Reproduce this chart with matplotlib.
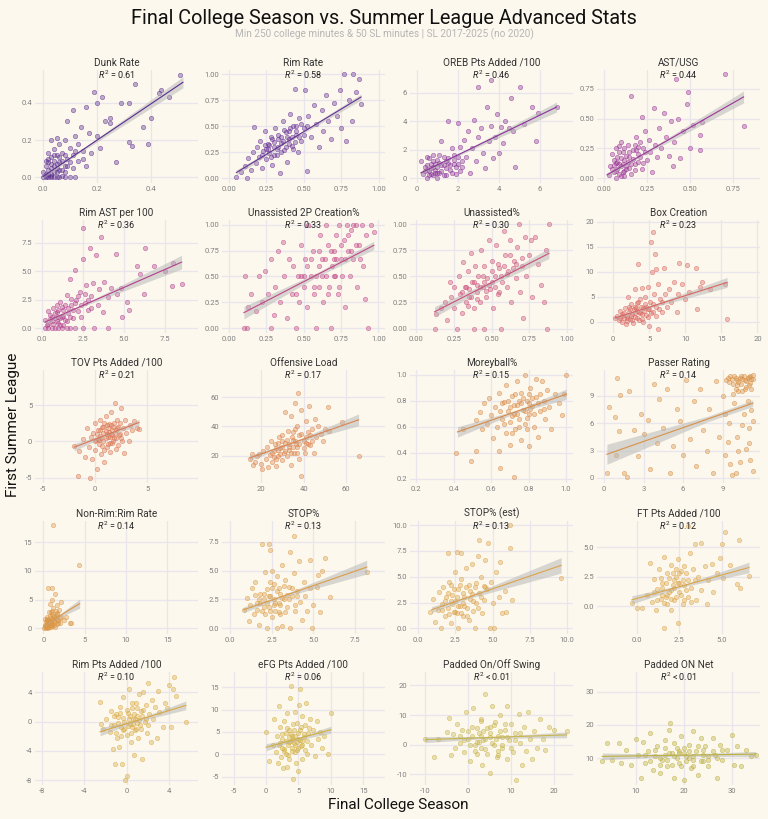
import numpy as np
import matplotlib.pyplot as plt
from matplotlib.colors import to_rgba

plt.rcParams['font.family'] = ['Roboto', 'DejaVu Sans']
plt.rcParams['axes.unicode_minus'] = False
plt.rcParams['mathtext.fontset'] = 'custom'
plt.rcParams['mathtext.rm'] = 'Roboto'
plt.rcParams['mathtext.it'] = 'Roboto:italic'

bg = '#fcf8ed'

names = ['Dunk Rate', 'Rim Rate', 'OREB Pts Added /100', 'AST/USG',
         'Rim AST per 100', 'Unassisted 2P Creation%', 'Unassisted%', 'Box Creation',
         'TOV Pts Added /100', 'Offensive Load', 'Moreyball%', 'Passer Rating',
         'Non-Rim:Rim Rate', 'STOP%', 'STOP% (est)', 'FT Pts Added /100',
         'Rim Pts Added /100', 'eFG Pts Added /100', 'Padded On/Off Swing', 'Padded ON Net']
r2_labels = ['= 0.61', '= 0.58', '= 0.46', '= 0.44', '= 0.36', '= 0.33', '= 0.30', '= 0.23',
             '= 0.21', '= 0.17', '= 0.15', '= 0.14', '= 0.14', '= 0.13', '= 0.13', '= 0.12',
             '= 0.10', '= 0.06', '< 0.01', '< 0.01']
colors = ['#5b2d90', '#652f96', '#8a329a', '#9c3598', '#b33e8e', '#c24787', '#cc4e7a', '#d9655f',
          '#db7553', '#dc834c', '#d98a45', '#d99146', '#db9848', '#dc9d47', '#dca24a', '#dca649',
          '#d9aa44', '#d3b03f', '#c8b54a', '#bcb03f']
lims = [(-0.03, 0.576), (-0.046, 1.04), (-0.33, 7.6), (-0.038, 0.905), (-0.42, 9.5),
        (-0.047, 1.045), (-0.043, 1.04), (-2.2, 20.35), (-5.75, 9.85), (1.4, 78.5),
        (0.167, 1.037), (-0.55, 11.85), (-1.0, 18.7), (-0.5, 9.3), (-0.55, 10.4),
        (-2.35, 7.25), (-8.65, 6.75), (-6.8, 18.35), (-13.6, 24.5), (1.9, 35.9)]
ticks = [[0.0, 0.2, 0.4], [0, 0.25, 0.5, 0.75, 1.0], [0, 2, 4, 6], [0, 0.25, 0.5, 0.75],
         [0, 2.5, 5, 7.5], [0, 0.25, 0.5, 0.75, 1.0], [0, 0.25, 0.5, 0.75, 1.0], [0, 5, 10, 15, 20],
         [-5, 0, 5], [20, 40, 60], [0.2, 0.4, 0.6, 0.8, 1.0], [0, 3, 6, 9],
         [0, 5, 10, 15], [0, 2.5, 5, 7.5], [0, 2.5, 5, 7.5, 10], [0, 2.5, 5],
         [-8, -4, 0, 4], [-5, 0, 5, 10, 15], [-10, 0, 10, 20], [10, 20, 30]]
decimals = [1, 2, 0, 2, 1, 2, 2, 0, 0, 0, 1, 0, 0, 1, 1, 1, 0, 0, 0, 0]

# fitted line ends (x0, y0, x1, y1) and ribbon half-widths (left, narrowest, right)
fits = [(0.0, 0.005, 0.52, 0.51), (0.05, 0.055, 0.88, 0.78), (0.2, 0.38, 6.8, 5.0), (0.02, 0.03, 0.81, 0.68),
        (0.2, 0.55, 8.5, 5.8), (0.1, 0.15, 0.97, 0.8), (0.12, 0.16, 0.88, 0.72), (0.3, 0.8, 15.8, 7.9),
        (-2.0, -0.8, 4.2, 2.6), (14.5, 18.5, 66, 44.5), (0.42, 0.56, 1.0, 0.85), (0.2, 2.6, 11.3, 8.2),
        (0.1, 0.5, 4.4, 4.3), (0.8, 1.6, 8.2, 5.3), (0.9, 1.8, 9.6, 6.1), (-0.3, 0.55, 6.6, 3.3),
        (-2.5, -1.4, 5.6, 2.2), (0.0, 1.6, 10.0, 5.5), (-10.0, 1.7, 23.0, 3.3), (3.0, 10.5, 35.0, 11.2)]
bands = [(0.012, 0.005, 0.03), (0.025, 0.01, 0.03), (0.15, 0.08, 0.35), (0.02, 0.01, 0.05),
         (0.2, 0.1, 0.6), (0.06, 0.02, 0.04), (0.05, 0.02, 0.05), (0.3, 0.25, 1.0),
         (0.5, 0.15, 0.45), (1.8, 0.7, 4.0), (0.04, 0.01, 0.04), (1.1, 0.3, 0.35),
         (0.15, 0.1, 0.8), (0.25, 0.1, 0.6), (0.3, 0.15, 0.75), (0.35, 0.1, 0.45),
         (0.55, 0.15, 0.6), (0.8, 0.25, 0.8), (1.0, 0.3, 1.0), (1.0, 0.3, 0.8)]

pts_dunk = [(0.00,0.00),(0.01,0.00),(0.02,0.00),(0.03,0.00),(0.04,0.00),(0.05,0.00),(0.06,0.00),(0.08,0.00),(0.10,0.00),(0.12,0.00),
    (0.01,0.02),(0.02,0.04),(0.03,0.02),(0.04,0.06),(0.05,0.03),(0.06,0.08),(0.07,0.04),(0.02,0.08),(0.03,0.11),(0.05,0.12),
    (0.08,0.06),(0.09,0.10),(0.04,0.15),(0.06,0.18),(0.07,0.13),(0.10,0.16),(0.03,0.20),(0.05,0.21),(0.08,0.20),(0.11,0.12),
    (0.12,0.22),(0.13,0.09),(0.15,0.14),(0.16,0.06),(0.09,0.30),(0.11,0.36),(0.14,0.27),(0.17,0.24),(0.18,0.13),(0.20,0.22),
    (0.16,0.38),(0.19,0.46),(0.20,0.40),(0.22,0.43),(0.21,0.16),(0.23,0.30),(0.25,0.29),(0.25,0.32),(0.27,0.08),(0.29,0.40),
    (0.32,0.40),(0.32,0.19),(0.33,0.17),(0.34,0.50),(0.37,0.27),(0.39,0.18),(0.40,0.32),(0.43,0.45),(0.44,0.47),(0.47,0.43),
    (0.51,0.55),(0.03,0.01),(0.01,0.06),(0.02,0.13),
    (0.01,0.01),(0.02,0.02),(0.03,0.05),(0.04,0.03),(0.05,0.07),(0.06,0.04),(0.07,0.09),(0.08,0.03),(0.09,0.06),(0.02,0.10),
    (0.04,0.12),(0.06,0.11),(0.00,0.03),(0.01,0.09),(0.03,0.07),(0.05,0.05),(0.07,0.01),(0.10,0.08),(0.11,0.05),(0.12,0.14),
    (0.04,0.09),(0.08,0.12),(0.13,0.18),(0.15,0.10)]
pts_rim = [(0.05,0.01),(0.08,0.06),(0.11,0.12),(0.12,0.00),(0.13,0.19),(0.15,0.08),(0.16,0.25),(0.17,0.49),(0.18,0.15),(0.19,0.30),
    (0.20,0.20),(0.21,0.36),(0.22,0.10),(0.23,0.26),(0.24,0.45),(0.25,0.18),(0.26,0.33),(0.27,0.24),(0.28,0.40),(0.29,0.13),
    (0.30,0.30),(0.31,0.48),(0.32,0.22),(0.33,0.38),(0.34,0.05),(0.35,0.34),(0.36,0.55),(0.37,0.27),(0.38,0.44),(0.39,0.16),
    (0.40,0.38),(0.41,0.62),(0.42,0.31),(0.43,0.50),(0.44,0.86),(0.45,0.42),(0.46,0.25),(0.47,0.58),(0.48,0.36),(0.50,0.48),
    (0.51,0.85),(0.52,0.07),(0.53,0.60),(0.55,0.40),(0.57,0.70),(0.58,0.52),(0.60,0.30),(0.62,0.66),(0.63,0.45),(0.65,0.80),
    (0.66,0.55),(0.68,0.38),(0.70,0.72),(0.72,0.60),(0.74,0.85),(0.75,0.48),(0.77,1.00),(0.78,0.36),(0.80,0.75),(0.82,0.55),
    (0.83,1.00),(0.85,0.83),(0.87,0.95),(0.88,0.71),(0.26,0.28),(0.30,0.22),(0.35,0.40),(0.40,0.45),(0.33,0.30),(0.45,0.50),
    (0.22,0.22),(0.25,0.28),(0.27,0.32),(0.28,0.20),(0.30,0.35),(0.32,0.28),(0.33,0.42),(0.35,0.25),(0.36,0.36),(0.38,0.30),
    (0.39,0.40),(0.40,0.33),(0.41,0.48),(0.42,0.40),(0.44,0.35),(0.45,0.45),(0.47,0.40),(0.48,0.52),(0.50,0.42),(0.52,0.50),
    (0.29,0.38),(0.24,0.32),(0.37,0.46),(0.43,0.28)]
pts_oreb = [(0.2,1.2),(0.3,0.3),(0.4,0.8),(0.5,0.0),(0.5,1.5),(0.6,0.5),(0.7,1.0),(0.8,0.2),(0.8,1.6),(0.9,0.6),
    (1.0,1.3),(1.0,0.0),(1.1,0.4),(1.2,0.9),(1.2,2.6),(1.3,1.5),(1.4,0.2),(1.5,4.0),(1.5,1.1),(1.6,0.6),
    (1.7,2.1),(1.8,1.6),(1.9,0.3),(2.0,3.9),(2.0,1.0),(2.1,2.2),(2.2,0.8),(2.3,2.7),(2.4,1.5),(2.5,3.3),
    (2.6,0.4),(2.7,2.1),(2.8,4.1),(2.9,1.2),(3.0,6.4),(3.0,2.9),(3.1,3.5),(3.2,1.8),(3.3,0.7),(3.4,5.0),
    (3.5,2.6),(3.6,6.9),(3.6,3.7),(3.7,1.4),(3.8,2.9),(3.9,4.5),(4.0,1.8),(4.1,3.6),(4.2,2.5),(4.3,4.0),
    (4.5,3.5),(4.6,5.6),(4.7,3.3),(4.8,0.8),(5.0,6.4),(5.2,3.8),(5.6,5.0),(5.8,2.6),(5.9,4.6),(6.8,5.0),
    (0.6,1.4),(0.9,1.0),(1.1,1.6),(1.4,0.7),(0.7,0.3),(1.8,1.0),
    (0.4,0.5),(0.5,0.9),(0.6,0.2),(0.7,0.7),(0.8,1.2),(0.9,0.4),(1.0,0.8),(1.1,1.1),(1.2,0.5),(1.3,0.9),
    (1.3,0.2),(1.5,1.4),(1.6,0.9),(1.7,0.4),(1.8,1.3),(1.9,0.8),(2.0,1.5),(2.1,0.5),(2.2,1.2),(0.5,0.6),
    (0.8,0.8),(1.0,0.4),(1.4,1.2)]
pts_astusg = [(0.03,0.03),(0.04,0.10),(0.05,0.20),(0.06,0.05),(0.06,0.15),(0.07,0.00),(0.07,0.25),(0.08,0.08),(0.08,0.18),(0.09,0.12),
    (0.10,0.30),(0.10,0.02),(0.11,0.22),(0.12,0.06),(0.12,0.15),(0.13,0.10),(0.14,0.28),(0.15,0.18),(0.16,0.69),(0.16,0.04),
    (0.17,0.24),(0.18,0.12),(0.19,0.35),(0.20,0.20),(0.21,0.30),(0.22,0.51),(0.22,0.08),(0.23,0.25),(0.24,0.40),(0.25,0.15),
    (0.26,0.32),(0.27,0.22),(0.28,0.05),(0.29,0.59),(0.30,0.28),(0.31,0.18),(0.32,0.42),(0.33,0.25),(0.35,0.55),(0.36,0.35),
    (0.38,0.19),(0.39,0.48),(0.40,0.10),(0.41,0.30),(0.42,0.83),(0.43,0.50),(0.44,0.17),(0.46,0.40),(0.48,0.62),(0.49,0.72),
    (0.50,0.25),(0.52,0.45),(0.56,0.36),(0.56,0.24),(0.57,0.47),(0.70,0.87),(0.81,0.44),(0.09,0.22),(0.11,0.05),(0.13,0.19),
    (0.15,0.09),(0.07,0.13),(0.18,0.28),(0.20,0.14),
    (0.05,0.08),(0.06,0.11),(0.07,0.06),(0.08,0.14),(0.09,0.04),(0.10,0.10),(0.10,0.17),(0.11,0.12),(0.12,0.25),(0.13,0.08),
    (0.14,0.14),(0.15,0.22),(0.16,0.12),(0.17,0.16),(0.18,0.07),(0.19,0.24),(0.20,0.26),(0.21,0.18),(0.23,0.13),(0.24,0.22),
    (0.12,0.02),(0.09,0.27)]
pts_rimast = [(0.2,0.0),(0.4,0.0),(0.6,0.0),(0.8,0.0),(1.0,0.0),(1.2,0.0),(1.5,0.0),(1.7,0.0),(2.0,0.0),(2.5,0.0),(3.2,0.0),(4.0,0.0),
    (0.2,0.7),(0.4,0.4),(0.5,1.2),(0.6,0.6),(0.7,1.8),(0.8,0.9),(0.9,1.4),(1.0,0.5),(1.1,2.3),(1.2,1.0),
    (1.3,1.6),(1.4,0.7),(1.5,2.9),(1.6,1.3),(1.7,4.3),(1.8,2.0),(1.9,0.9),(2.0,5.1),(2.1,2.5),(2.2,1.5),
    (2.3,3.2),(2.4,1.0),(2.5,8.8),(2.5,6.1),(2.6,2.2),(2.7,3.8),(2.8,1.6),(2.9,7.0),(3.0,2.8),(3.1,4.0),
    (3.3,6.4),(3.4,2.0),(3.5,3.4),(3.6,8.0),(3.7,1.4),(3.8,4.1),(4.0,2.7),(4.2,3.5),(4.5,6.5),(4.6,3.0),
    (4.8,3.5),(4.9,1.0),(5.2,2.3),(5.3,1.6),(5.8,5.5),(6.0,4.8),(6.2,3.0),(6.3,7.0),(6.8,5.5),(7.5,5.0),
    (7.9,3.7),(8.0,5.7),(8.5,3.9),(1.0,1.0),(1.3,0.3),(0.9,2.0),
    (0.3,0.3),(0.5,0.8),(0.6,1.0),(0.7,0.4),(0.8,1.3),(0.9,0.6),(1.0,1.6),(1.1,0.3),(1.2,1.9),(1.3,1.1),
    (1.4,2.0),(1.5,0.6),(1.6,1.8),(1.7,1.0),(1.8,2.6),(1.9,1.6),(2.0,2.2),(2.2,2.8),(2.4,2.0),(2.6,3.0),
    (2.8,2.5),(3.0,1.8),(0.4,1.5),(1.1,0.9)]
pts_unast2p = [(0.10,0.00),(0.11,0.50),(0.12,0.00),(0.13,0.20),(0.15,0.33),(0.18,0.17),(0.20,0.50),(0.22,0.25),(0.24,0.55),(0.26,0.33),
    (0.28,0.00),(0.28,0.67),(0.30,0.13),(0.31,0.40),(0.33,0.75),(0.34,0.25),(0.36,0.83),(0.37,0.50),(0.39,0.10),(0.40,0.67),
    (0.42,0.33),(0.43,0.60),(0.45,0.00),(0.46,0.50),(0.47,0.25),(0.48,0.80),(0.50,0.40),(0.51,0.67),(0.52,0.20),(0.53,1.00),
    (0.55,0.50),(0.56,0.75),(0.57,0.33),(0.58,0.00),(0.60,0.60),(0.61,0.90),(0.62,0.50),(0.63,0.25),(0.64,0.67),(0.65,1.00),
    (0.66,0.80),(0.67,0.40),(0.68,0.00),(0.69,0.60),(0.70,0.75),(0.71,0.50),(0.72,0.90),(0.73,0.33),(0.74,1.00),(0.75,0.67),
    (0.76,0.50),(0.77,0.85),(0.78,0.20),(0.79,1.00),(0.80,0.75),(0.81,0.50),(0.82,0.95),(0.83,0.67),(0.85,1.00),(0.86,0.40),
    (0.87,0.80),(0.89,1.00),(0.90,0.60),(0.91,0.28),(0.92,0.90),(0.93,0.00),(0.95,1.00),(0.97,0.93),(0.70,0.67),(0.60,0.40),
    (0.45,0.33),(0.50,0.50),(0.55,0.67),(0.58,0.50),(0.62,0.67),(0.65,0.50),(0.68,0.75),(0.70,0.50),(0.72,0.67),(0.75,0.80),
    (0.78,0.67),(0.80,0.90),(0.82,0.75),(0.85,0.80),(0.88,0.67),(0.60,0.75),(0.66,0.33),(0.74,0.40),(0.52,0.60),(0.57,0.40),
    (0.48,0.50),(0.83,1.00)]
pts_unast = [(0.12,0.00),(0.13,0.14),(0.16,0.20),(0.19,0.25),(0.20,0.08),(0.22,0.45),(0.23,0.30),(0.25,0.40),(0.25,0.20),(0.27,0.00),
    (0.28,0.50),(0.29,0.33),(0.30,0.15),(0.31,0.64),(0.32,0.40),(0.33,0.25),(0.34,0.55),(0.35,0.30),(0.36,0.72),(0.37,0.45),
    (0.38,0.00),(0.38,0.20),(0.39,0.60),(0.40,0.35),(0.41,0.50),(0.42,0.25),(0.43,0.75),(0.44,0.40),(0.45,0.00),(0.45,0.60),
    (0.46,0.30),(0.47,0.48),(0.48,0.85),(0.49,0.38),(0.50,0.65),(0.51,0.20),(0.52,0.50),(0.53,0.80),(0.54,0.33),(0.55,0.58),
    (0.56,0.00),(0.57,0.45),(0.58,0.93),(0.59,0.70),(0.60,0.40),(0.61,0.55),(0.62,0.85),(0.63,0.25),(0.65,0.65),(0.66,0.48),
    (0.67,0.78),(0.68,1.00),(0.69,0.35),(0.70,0.60),(0.71,0.10),(0.72,0.88),(0.73,0.50),(0.75,0.70),(0.76,0.85),(0.77,0.30),
    (0.79,0.88),(0.81,0.62),(0.83,0.42),(0.85,0.25),(0.86,0.75),(0.87,0.00),(0.88,1.00),(0.40,0.42),(0.50,0.45),(0.35,0.38),
    (0.30,0.35),(0.33,0.40),(0.36,0.30),(0.38,0.45),(0.40,0.28),(0.42,0.40),(0.44,0.50),(0.46,0.36),(0.48,0.42),(0.50,0.55),
    (0.52,0.40),(0.54,0.62),(0.56,0.50),(0.58,0.60),(0.60,0.52),(0.62,0.70),(0.64,0.58),(0.66,0.62),(0.34,0.22),(0.45,0.45),
    (0.55,0.35),(0.70,0.68)]
pts_box = [(0.3,0.8),(0.5,1.2),(0.8,0.3),(1.0,2.1),(1.2,0.0),(1.3,1.5),(1.5,0.8),(1.7,2.8),(1.8,-0.4),(2.0,1.2),
    (2.1,5.0),(2.2,2.0),(2.4,0.5),(2.5,3.5),(2.6,1.6),(2.8,-0.2),(2.9,2.5),(3.0,6.6),(3.1,1.0),(3.3,3.8),
    (3.4,2.2),(3.5,11.5),(3.6,0.3),(3.7,4.5),(3.8,1.7),(4.0,6.8),(4.1,2.8),(4.2,0.0),(4.4,3.5),(4.5,5.0),
    (4.6,1.4),(4.8,7.0),(4.9,2.5),(5.0,-0.8),(5.2,4.0),(5.3,16.0),(5.4,10.0),(5.5,2.0),(5.6,18.0),(5.7,5.5),
    (5.8,13.5),(5.9,10.5),(6.0,3.0),(6.2,-1.5),(6.3,7.5),(6.5,4.5),(6.8,2.0),(7.0,10.8),(7.2,5.5),(7.5,3.0),
    (7.8,6.5),(8.0,4.0),(8.4,8.0),(8.8,2.0),(9.0,5.5),(9.2,11.8),(9.5,7.5),(10.0,4.5),(10.3,11.4),(10.5,6.0),
    (11.5,10.7),(11.6,2.5),(12.0,7.0),(12.3,8.0),(13.4,6.5),(15.5,7.5),(15.8,0.6),(2.0,0.2),(3.0,3.0),(4.0,1.5),
    (1.0,0.8),(1.5,1.8),(2.0,0.8),(2.3,2.5),(2.5,1.2),(2.7,0.4),(3.0,1.8),(3.2,2.8),(3.4,0.8),(3.6,1.9),
    (3.9,3.0),(4.0,0.6),(4.3,2.2),(4.6,3.0),(4.8,1.0),(5.0,2.6),(5.3,1.8),(5.6,3.6),(6.0,1.2),(6.4,2.6),
    (6.8,4.0),(2.2,3.0),(3.5,4.0),(1.2,1.2)]
pts_tov = [(-2.0,-0.6),(-1.6,-4.8),(-1.5,-1.3),(-1.2,0.3),(-1.0,-2.2),(-0.8,1.8),(-0.6,-0.8),(-0.5,-5.0),(-0.4,0.6),(-0.3,-2.4),
    (-0.2,1.2),(0.0,-1.2),(0.0,2.5),(0.1,0.2),(0.2,-3.8),(0.3,1.5),(0.4,-0.4),(0.5,3.0),(0.5,0.8),(0.6,-1.8),
    (0.7,2.0),(0.8,0.0),(0.9,-2.8),(1.0,1.4),(1.0,3.5),(1.1,-0.8),(1.2,0.6),(1.3,2.4),(1.4,-1.5),(1.5,1.0),
    (1.5,4.0),(1.6,-0.2),(1.7,2.0),(1.8,0.4),(1.9,5.3),(2.0,-1.0),(2.0,1.6),(2.1,3.0),(2.2,-0.5),(2.3,0.9),
    (2.4,2.5),(2.5,4.6),(2.6,0.0),(2.7,1.8),(2.8,-1.6),(2.9,3.0),(3.0,1.2),(3.2,0.0),(3.3,2.2),(3.5,1.5),
    (3.7,2.8),(4.0,1.8),(4.2,1.7),(0.8,1.2),(1.2,1.8),(1.6,0.9),(0.3,0.3),(2.2,2.0),(1.4,-0.2),(0.9,2.6),
    (0.0,0.0),(0.2,1.0),(0.4,0.2),(0.5,1.6),(0.6,0.5),(0.7,-0.6),(0.8,2.0),(1.0,0.4),(1.1,1.0),(1.2,-0.3),
    (1.3,1.3),(1.4,0.6),(1.5,2.2),(1.6,1.5),(1.7,0.0),(1.8,2.6),(1.9,1.2),(2.0,0.5),(2.1,1.9),(2.4,1.0),
    (0.9,-1.2),(2.5,0.5),(1.1,2.2)]
pts_load = [(14.5,18.0),(15.5,21.0),(16.0,13.5),(17.0,16.0),(18.0,19.5),(19.0,21.0),(20.0,14.5),(20.5,11.0),(21.0,23.0),(22.0,18.0),
    (22.5,26.0),(23.0,12.0),(24.0,20.5),(24.5,30.0),(25.0,16.0),(26.0,23.0),(26.5,28.0),(27.0,13.0),(28.0,20.0),(28.5,33.0),
    (29.0,25.5),(30.0,17.0),(30.5,22.0),(31.0,50.0),(31.0,29.0),(32.0,20.0),(32.5,37.0),(33.0,26.0),(34.0,14.0),(34.0,47.0),
    (35.0,31.0),(35.5,22.0),(36.0,56.0),(36.5,28.0),(37.0,40.0),(37.5,63.0),(38.0,18.0),(38.0,34.0),(39.0,51.0),(39.0,6.0),
    (40.0,30.0),(40.5,22.0),(41.0,44.0),(42.0,36.0),(42.5,54.0),(43.0,27.0),(44.0,38.0),(45.0,22.0),(45.5,45.0),(46.0,33.0),
    (47.0,40.0),(48.0,35.0),(49.0,30.0),(50.0,38.0),(51.5,53.0),(52.0,37.0),(58.0,43.0),(66.0,20.0),(33.0,24.0),(37.0,26.0),
    (30.0,30.0),(41.0,29.0),(26.0,19.0),(35.0,36.0),(28.0,24.0),
    (25.0,22.0),(27.0,25.0),(28.0,29.0),(29.0,21.0),(30.0,26.0),(31.0,23.0),(32.0,31.0),(33.0,28.0),(34.0,22.0),(34.5,33.0),
    (35.0,26.0),(36.0,30.0),(37.0,22.0),(38.0,28.0),(39.0,35.0),(40.0,25.0),(41.0,33.0),(42.0,28.0),(43.0,34.0),(44.0,30.0),
    (36.0,38.0),(30.0,34.0),(27.0,18.0)]
pts_morey = [(0.41,0.40),(0.45,0.58),(0.49,0.34),(0.52,0.41),(0.52,0.65),(0.54,0.71),(0.55,0.58),(0.56,0.78),(0.58,0.62),(0.59,0.82),
    (0.60,0.69),(0.61,0.51),(0.62,0.75),(0.63,0.60),(0.64,0.86),(0.64,0.41),(0.65,0.28),(0.66,0.66),(0.67,0.79),(0.68,0.55),
    (0.68,0.92),(0.69,0.72),(0.70,0.46),(0.70,0.64),(0.71,0.84),(0.72,0.70),(0.72,0.21),(0.73,0.58),(0.74,0.95),(0.74,0.77),
    (0.75,0.66),(0.76,0.50),(0.76,0.86),(0.77,0.73),(0.78,1.00),(0.78,0.62),(0.79,0.80),(0.80,0.45),(0.80,0.70),(0.81,0.90),
    (0.82,0.76),(0.83,0.60),(0.84,0.97),(0.84,0.83),(0.85,0.52),(0.86,0.72),(0.87,0.95),(0.88,0.80),(0.89,0.66),(0.90,0.88),
    (0.91,0.75),(0.92,0.58),(0.94,0.85),(0.96,0.78),(0.98,0.69),(0.99,0.85),(1.00,1.00),(0.75,0.80),(0.70,0.75),(0.80,0.78),
    (0.65,0.72),(0.67,0.62),(0.69,0.80),(0.71,0.68),(0.72,0.77),(0.73,0.85),(0.74,0.70),(0.75,0.60),(0.76,0.78),(0.77,0.82),
    (0.78,0.72),(0.79,0.67),(0.80,0.85),(0.81,0.74),(0.82,0.82),(0.83,0.70),(0.85,0.78),(0.86,0.85),(0.88,0.74),(0.71,0.55),
    (0.66,0.78),(0.79,0.58)]
pts_passer = [(0.2,0.6),(0.4,7.8),(0.8,6.7),(0.9,2.5),(1.0,11.0),(1.1,5.2),(1.2,9.1),(1.5,0.5),(1.7,0.1),(1.9,9.6),
    (2.3,5.3),(2.6,2.4),(2.8,7.0),(3.0,4.8),(3.3,6.4),(3.5,1.0),(3.8,10.3),(4.0,3.8),(4.2,8.7),(4.5,5.5),
    (4.8,9.8),(5.0,0.6),(5.2,3.5),(5.5,7.6),(5.8,6.2),(6.0,2.5),(6.2,10.8),(6.5,4.3),(6.8,8.5),(7.0,1.3),
    (7.3,9.8),(7.5,5.3),(7.8,3.0),(8.0,7.6),(8.3,0.6),(8.5,10.6),(8.7,4.5),(9.0,9.0),(9.2,2.5),(9.3,10.8),
    (9.5,6.0),(9.6,11.2),(9.7,0.3),(9.8,10.3),(9.9,8.2),(10.0,11.0),(10.1,4.5),(10.2,10.5),(10.3,1.8),(10.4,11.2),
    (10.5,9.5),(10.6,7.0),(10.7,10.8),(10.8,3.2),(10.9,11.0),(11.0,10.2),(11.0,5.5),(11.1,11.2),(11.2,9.8),(11.3,0.8),
    (11.3,10.9),(10.8,10.0),(10.5,10.9),(10.1,10.2),(11.2,7.5),(9.4,11.0),(10.0,9.8),(10.9,8.5),
    (9.5,10.5),(9.7,10.9),(9.9,11.2),(10.1,10.7),(10.3,11.0),(10.4,10.3),(10.6,11.2),(10.7,9.8),(10.8,10.6),(11.0,11.1),
    (11.1,10.4),(11.2,10.9),(11.3,11.3),(10.2,9.5),(9.8,9.2),(11.3,6.2),(11.1,2.0),(10.5,5.8),(10.2,3.0),(9.6,1.5),
    (9.2,7.0),(10.0,0.5),(9.4,4.0),(11.0,3.8)]
pts_nonrim = [(0.1,0.1),(0.2,0.5),(0.3,1.2),(0.3,0.0),(0.4,0.8),(0.5,2.0),(0.5,0.3),(0.6,1.5),(0.6,7.0),(0.7,0.6),
    (0.7,2.8),(0.8,1.0),(0.8,4.2),(0.9,0.2),(0.9,1.8),(1.0,5.0),(1.0,2.4),(1.1,0.8),(1.1,7.0),(1.2,1.4),
    (1.2,3.5),(1.2,18.0),(1.3,0.5),(1.3,2.0),(1.4,6.0),(1.4,1.1),(1.5,3.0),(1.6,0.7),(1.6,2.4),(1.7,4.0),
    (1.8,1.5),(1.9,3.2),(2.0,0.9),(2.1,4.6),(2.2,2.0),(2.5,1.5),(2.8,2.0),(3.2,1.0),(3.4,1.0),(4.3,11.0),
    (0.4,0.2),(0.5,1.1),(0.7,0.2),(0.9,0.9),(1.0,0.4),(0.6,0.0),(0.8,2.2),(1.5,1.8),(0.2,1.6),(1.1,3.0),
    (0.2,0.3),(0.3,0.6),(0.4,1.4),(0.5,0.5),(0.6,0.9),(0.7,1.3),(0.8,0.5),(0.9,1.2),(1.0,1.6),(1.1,0.5),
    (1.2,2.2),(1.3,1.2),(1.4,0.3),(1.5,2.2),(1.6,1.4),(1.7,2.6),(1.8,0.9),(2.0,1.8),(0.5,1.7),(0.9,2.8)]
pts_stop = [(0.8,1.6),(1.0,2.6),(1.1,0.6),(1.2,2.0),(1.3,3.5),(1.4,1.2),(1.5,4.0),(1.6,2.2),(1.7,0.3),(1.8,3.0),
    (1.9,7.3),(1.9,1.5),(2.0,2.5),(2.1,4.9),(2.2,0.0),(2.2,3.4),(2.3,1.8),(2.3,7.3),(2.4,6.8),(2.4,2.8),
    (2.5,5.0),(2.5,1.0),(2.6,3.8),(2.7,2.2),(2.8,0.0),(2.8,4.5),(2.9,1.4),(3.0,3.0),(3.1,5.5),(3.1,0.2),
    (3.2,2.5),(3.3,4.2),(3.4,1.8),(3.5,3.6),(3.6,6.6),(3.6,0.0),(3.7,2.8),(3.8,8.0),(3.8,4.8),(3.9,1.5),
    (4.0,3.2),(4.1,5.8),(4.2,2.3),(4.3,0.7),(4.4,4.0),(4.5,2.8),(4.6,1.5),(4.8,5.9),(4.8,3.5),(4.9,0.0),
    (5.0,2.0),(5.2,3.6),(5.3,4.6),(5.4,1.4),(5.5,5.0),(5.7,6.1),(6.0,2.7),(8.2,4.9),(2.6,2.0),(3.0,2.0),
    (2.0,1.8),(3.4,2.9),(2.9,3.5),(1.7,2.5),
    (1.6,1.6),(1.8,2.2),(2.0,3.0),(2.1,1.2),(2.2,2.2),(2.3,2.8),(2.4,1.5),(2.5,3.5),(2.6,2.5),(2.7,1.5),
    (2.8,3.2),(2.9,2.2),(3.0,1.2),(3.1,2.6),(3.2,3.7),(3.3,1.4),(3.5,2.5),(3.7,3.5),(3.9,2.0),(4.0,2.8),
    (2.4,4.0),(1.5,2.9)]
pts_stop_est = [(0.8,1.6),(1.0,2.8),(1.1,0.6),(1.3,1.8),(1.4,3.5),(1.5,0.0),(1.6,2.4),(1.7,4.0),(1.8,1.2),(1.9,3.0),
    (2.0,7.3),(2.0,2.0),(2.1,4.5),(2.2,0.5),(2.3,3.2),(2.4,1.6),(2.5,5.5),(2.5,2.6),(2.6,7.4),(2.7,0.0),
    (2.7,3.8),(2.8,2.2),(2.9,4.8),(2.9,7.3),(3.0,1.2),(3.1,3.0),(3.2,5.8),(3.3,2.0),(3.4,0.8),(3.4,4.2),
    (3.5,2.8),(3.6,6.2),(3.7,1.7),(3.8,4.0),(3.8,0.0),(3.9,2.5),(4.0,7.0),(4.1,8.6),(4.1,3.4),(4.2,5.0),
    (4.3,1.5),(4.4,2.7),(4.5,6.6),(4.6,3.8),(4.7,8.3),(4.8,0.0),(4.9,4.5),(5.0,2.5),(5.1,0.0),(5.2,5.5),
    (5.4,3.0),(5.5,6.4),(5.6,1.5),(5.8,3.6),(5.9,1.6),(6.2,10.0),(6.2,7.8),(6.3,2.7),(9.6,4.9),(2.2,2.6),
    (3.0,2.5),(3.6,3.3),(2.6,1.5),(4.4,4.1),
    (1.6,1.8),(1.8,2.6),(2.0,3.4),(2.1,1.4),(2.3,2.4),(2.4,3.8),(2.5,1.6),(2.6,3.0),(2.7,2.2),(2.8,4.2),
    (2.9,1.5),(3.0,3.4),(3.1,2.2),(3.2,4.0),(3.3,1.2),(3.5,3.6),(3.7,2.6),(3.9,4.4),(4.0,2.0),(4.2,3.0),
    (4.5,4.0),(2.2,4.2)]
pts_ft = [(-0.3,0.3),(0.0,-0.1),(0.3,-0.1),(0.6,1.0),(0.8,3.7),(0.9,0.4),(1.0,2.3),(1.1,-0.3),(1.2,1.5),(1.3,3.2),
    (1.4,0.6),(1.5,2.0),(1.6,-1.8),(1.6,4.2),(1.7,0.8),(1.8,2.8),(1.9,1.2),(2.0,-0.3),(2.0,3.5),(2.1,1.8),
    (2.2,0.5),(2.3,2.5),(2.4,-1.4),(2.4,4.0),(2.5,1.2),(2.6,3.0),(2.7,0.2),(2.8,1.8),(2.9,2.8),(3.0,6.8),
    (3.0,0.8),(3.1,4.5),(3.2,1.6),(3.3,3.2),(3.4,5.3),(3.5,0.5),(3.6,2.5),(3.8,5.4),(3.8,1.4),(4.0,3.4),
    (4.1,0.2),(4.2,2.2),(4.4,3.6),(4.5,1.2),(4.7,2.8),(4.9,4.1),(5.0,5.3),(5.1,2.4),(5.2,6.3),(5.5,3.5),
    (5.9,1.9),(6.0,5.6),(6.1,1.6),(6.6,2.6),(1.5,1.0),(2.0,1.4),(2.5,2.0),(1.8,0.2),(2.8,0.5),(2.2,2.2),
    (1.0,1.2),(1.2,0.5),(1.4,2.4),(1.5,1.6),(1.7,2.0),(1.8,1.0),(1.9,2.4),(2.0,0.6),(2.1,2.8),(2.2,1.6),
    (2.3,0.8),(2.4,2.0),(2.5,2.8),(2.6,1.0),(2.7,2.2),(2.8,3.4),(2.9,1.4),(3.0,2.2),(3.2,0.4),(3.4,2.2),
    (1.6,0.3),(2.3,3.2)]
pts_rimpts = [(-2.5,2.6),(-2.4,-0.3),(-2.2,-1.0),(-1.9,0.3),(-1.6,-1.4),(-1.5,1.5),(-1.3,-3.8),(-1.2,-0.5),(-1.1,-5.8),(-1.0,1.0),
    (-0.9,-2.2),(-0.8,0.6),(-0.7,-3.5),(-0.6,2.0),(-0.5,-0.8),(-0.4,-5.8),(-0.3,3.3),(-0.2,0.0),(-0.1,-8.0),(0.0,-7.4),
    (0.0,-1.8),(0.1,1.2),(0.2,4.4),(0.3,-0.4),(0.4,-2.8),(0.5,1.8),(0.6,0.3),(0.7,-4.5),(0.8,-1.2),(0.9,2.5),
    (1.0,0.8),(1.1,-2.3),(1.2,3.8),(1.3,-0.5),(1.4,1.5),(1.5,-5.1),(1.6,4.0),(1.7,0.0),(1.8,2.2),(1.9,-1.5),
    (2.0,5.2),(2.1,1.0),(2.3,-2.8),(2.4,3.0),(2.5,0.3),(2.7,2.0),(2.9,-2.3),(3.0,4.2),(3.1,1.3),(3.4,-0.8),
    (3.6,2.5),(3.8,1.8),(4.0,5.0),(4.2,-0.7),(4.4,4.5),(4.5,6.1),(4.7,3.5),(5.6,0.0),(0.5,-0.8),(1.0,-0.2),
    (0.3,0.8),(1.5,0.8),(-0.3,-1.2),
    (-1.5,-0.5),(-1.2,0.8),(-1.0,-1.5),(-0.8,-0.2),(-0.6,1.2),(-0.5,-2.0),(-0.3,0.5),(-0.2,-1.0),(0.0,1.6),(0.1,-0.6),
    (0.2,0.4),(0.4,-1.6),(0.5,2.5),(0.6,-0.3),(0.7,1.0),(0.9,-1.0),(1.0,1.8),(1.2,0.2),(1.4,-1.0),(1.6,1.6),
    (1.8,0.4),(2.0,-0.5),(0.8,0.4)]
pts_efg = [(0.0,5.0),(0.5,-1.4),(1.0,2.2),(1.2,8.0),(1.5,0.5),(1.7,4.0),(1.8,-2.0),(2.0,10.8),(2.1,2.5),(2.2,6.0),
    (2.3,-0.5),(2.5,3.5),(2.6,-3.0),(2.7,1.2),(2.8,7.5),(3.0,0.0),(3.1,4.8),(3.2,-2.8),(3.3,9.3),(3.4,2.0),
    (3.5,5.5),(3.6,-1.0),(3.7,12.5),(3.8,3.0),(3.9,15.2),(4.0,0.8),(4.1,6.8),(4.2,-5.5),(4.3,2.5),(4.4,9.5),
    (4.5,4.2),(4.6,-2.0),(4.7,1.0),(4.8,7.0),(4.9,3.5),(5.0,-3.6),(5.1,11.0),(5.2,5.5),(5.3,14.6),(5.4,1.8),
    (5.5,8.5),(5.6,-1.0),(5.8,3.8),(6.0,6.5),(6.1,11.5),(6.3,0.0),(6.5,4.8),(6.8,8.0),(7.0,2.0),(7.2,5.5),
    (7.5,-0.4),(7.8,7.5),(8.0,3.5),(8.3,5.0),(8.7,1.5),(9.0,4.0),(9.5,0.2),(10.0,9.3),(4.5,2.0),(3.5,3.8),
    (5.5,3.0),(2.5,1.5),
    (2.0,2.0),(2.5,4.5),(2.8,0.8),(3.0,3.0),(3.2,5.8),(3.4,-0.2),(3.6,2.8),(3.8,4.5),(4.0,1.5),(4.1,3.5),
    (4.3,5.5),(4.5,0.5),(4.7,2.8),(4.9,4.8),(5.0,1.5),(5.2,3.2),(5.4,6.2),(5.6,2.0),(5.8,4.5),(6.0,1.0),
    (6.3,3.0),(6.6,5.8),(4.0,4.0)]
pts_swing = [(-10.0,1.8),(-8.0,-4.2),(-7.0,2.0),(-5.0,4.2),(-4.5,9.0),(-4.0,-3.5),(-3.5,3.5),(-3.0,-1.0),(-2.5,7.0),(-2.0,0.5),
    (-1.5,5.0),(-1.0,-2.5),(-0.5,11.0),(0.0,2.0),(0.5,-5.5),(1.0,6.0),(1.2,12.5),(1.5,0.0),(2.0,-3.0),(2.5,4.0),
    (3.0,8.5),(3.2,-7.0),(3.5,1.5),(4.0,17.0),(4.0,-1.5),(4.5,5.5),(5.0,-9.5),(5.0,2.5),(5.5,13.0),(6.0,0.0),
    (6.3,7.5),(6.8,-4.0),(7.0,3.0),(7.5,10.0),(8.0,-1.0),(8.5,5.0),(9.0,-5.0),(9.0,13.0),(9.5,1.5),(10.0,7.0),
    (10.5,-2.5),(11.0,4.0),(11.2,-12.0),(11.8,10.5),(12.0,0.5),(12.5,-7.0),(13.0,6.0),(13.5,-2.0),(14.0,11.0),(14.5,2.0),
    (15.0,-5.0),(15.5,4.5),(16.0,-1.0),(16.8,8.5),(17.5,2.0),(18.0,-1.8),(19.0,6.0),(20.0,5.0),(23.0,4.7),(5.0,6.0),
    (3.0,3.0),(7.0,-2.0),(2.0,1.0),(8.0,2.5),
    (-2.0,3.0),(-1.0,1.5),(0.0,4.5),(0.5,0.0),(1.0,3.0),(1.5,-2.0),(2.0,5.5),(2.5,1.0),(3.0,-1.0),(3.5,4.5),
    (4.0,2.0),(4.5,-3.0),(5.0,4.0),(5.5,0.5),(6.0,6.5),(6.5,2.0),(7.0,-3.5),(7.5,4.5),(8.0,0.0),(8.5,7.0),
    (9.0,2.5),(10.0,-1.0),(11.0,1.5),(12.0,4.0),(3.0,8.0)]
pts_net = [(3.0,9.2),(4.0,14.5),(5.0,9.5),(6.5,14.5),(7.0,8.5),(8.0,12.5),(9.0,8.0),(10.0,15.8),(10.5,11.0),(11.0,4.0),
    (11.5,14.8),(12.0,8.5),(12.5,12.0),(13.0,17.5),(13.5,6.5),(14.0,10.5),(14.5,13.5),(15.0,5.5),(15.5,9.5),(16.0,15.5),
    (16.5,7.5),(17.0,18.3),(17.2,20.5),(17.5,11.5),(18.0,4.0),(18.5,13.0),(19.0,8.5),(19.5,16.5),(20.0,3.5),(20.5,10.5),
    (21.0,14.0),(21.5,7.0),(22.0,18.0),(22.5,12.0),(23.0,5.0),(23.5,16.0),(24.0,9.0),(24.5,13.5),(25.0,7.5),(26.0,16.0),
    (26.5,11.0),(27.0,4.0),(27.5,14.0),(28.0,9.5),(29.0,12.5),(30.0,17.0),(30.5,8.0),(31.0,13.5),(32.0,7.5),(33.0,12.5),
    (34.0,10.5),(35.0,11.0),(18.0,10.5),(20.0,11.5),(22.0,9.5),(16.0,11.0),(24.0,11.0),(19.0,12.0),(21.0,10.0),(25.0,10.5),
    (12.0,11.0),(13.0,9.0),(14.0,12.5),(15.0,10.0),(16.0,13.0),(16.5,9.5),(17.0,11.5),(17.5,8.0),(18.0,14.5),(18.5,10.0),
    (19.0,11.5),(19.5,7.5),(20.0,13.0),(20.5,9.0),(21.0,12.0),(22.0,10.5),(23.0,13.5),(23.5,9.0),(24.0,12.5),(25.0,9.5),
    (26.0,12.0),(27.0,10.0),(28.0,12.5),(15.0,8.0),(22.0,7.5)]

points = [pts_dunk, pts_rim, pts_oreb, pts_astusg, pts_rimast, pts_unast2p, pts_unast, pts_box,
          pts_tov, pts_load, pts_morey, pts_passer, pts_nonrim, pts_stop, pts_stop_est, pts_ft,
          pts_rimpts, pts_efg, pts_swing, pts_net]

W, H = 768, 819
fig = plt.figure(figsize=(W / 100, H / 100), dpi=100, facecolor=bg)

col_left = [35, 222, 410, 597]
row_top = [70, 220, 370, 521, 672]
pw, ph = 163, 113

for i in range(20):
    r, c = divmod(i, 4)
    ax = fig.add_axes([col_left[c] / W, 1 - (row_top[r] + ph) / H, pw / W, ph / H])
    ax.set_facecolor(bg)
    for s in ax.spines.values():
        s.set_visible(False)
    ax.grid(True, color='#e8e5ec', lw=0.9)
    ax.set_axisbelow(True)
    ax.tick_params(length=0, labelsize=5.5, labelcolor='#808080', pad=2)

    x, y = np.array(points[i]).T
    col = colors[i]
    ax.scatter(x, y, s=10, facecolor=to_rgba(col, 0.38), edgecolor=to_rgba(col, 0.6),
               linewidth=0.5, zorder=2)

    x0, y0, x1, y1 = fits[i]
    hl, hm, hr = bands[i]
    xm = x.mean()
    ym = y0 + (y1 - y0) * (xm - x0) / (x1 - x0)
    bx = np.array([x0, xm, x1])
    by = np.array([y0, ym, y1])
    bh = np.array([hl, hm, hr])
    ax.fill_between(bx, by - bh, by + bh, color='#b4b4b4', alpha=0.5, lw=0, zorder=3)
    ax.plot([x0, x1], [y0, y1], color=col, lw=0.8, zorder=4)

    lo, hi = lims[i]
    ax.set_xlim(lo, hi)
    ax.set_ylim(lo, hi)
    labs = [f'{t:.{decimals[i]}f}' for t in ticks[i]]
    ax.set_xticks(ticks[i])
    ax.set_xticklabels(labs)
    ax.set_yticks(ticks[i])
    ax.set_yticklabels(labs)

    ax.set_title(names[i], fontsize=7.2, color='#333333', pad=3)
    ax.text(0.5, 0.955, r'$R^2$ ' + r2_labels[i], transform=ax.transAxes,
            ha='center', va='center', fontsize=6.5, color='#222222', zorder=5)

fig.text(0.5, 1 - 18 / H, 'Final College Season vs. Summer League Advanced Stats',
         ha='center', va='center', fontsize=14.3, color='#111111')
fig.text(0.5, 1 - 34 / H, 'Min 250 college minutes & 50 SL minutes | SL 2017-2025 (no 2020)',
         ha='center', va='center', fontsize=7.2, color='#b5b5b5')
fig.text(13 / W, 1 - 425 / H, 'First Summer League', rotation=90,
         ha='center', va='center', fontsize=11, color='#111111')
fig.text(398 / W, 1 - 805 / H, 'Final College Season',
         ha='center', va='center', fontsize=11, color='#111111')

fig.savefig('out.png', dpi=100, facecolor=bg)
